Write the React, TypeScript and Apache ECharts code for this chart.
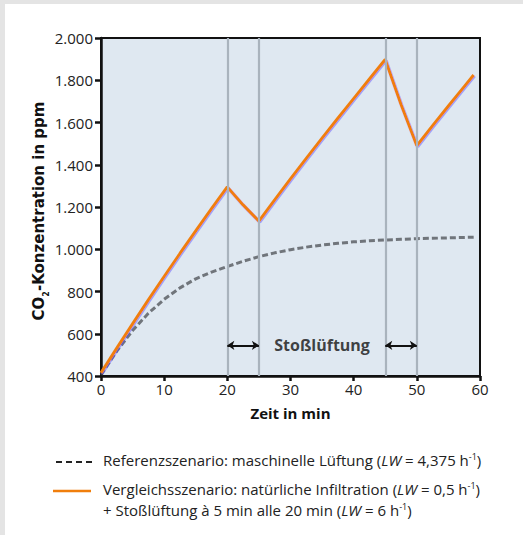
import React, { useEffect, useRef } from "react";
import * as echarts from "echarts";

const yTickLabels = ["400", "600", "800", "1.000", "1.200", "1.400", "1.600", "1.800", "2.000"];

const refTimes = [0, 2.5, 5, 7.5, 10, 12.5, 15, 17.5, 20, 22.5, 25, 27.5, 30, 32.5, 35, 37.5, 40, 42.5, 45, 47.5, 50, 52.5, 55, 57.5, 59];
const refValues = [405, 518, 615, 697, 763, 817, 860, 892, 918, 943, 965, 983, 998, 1010, 1020, 1028, 1035, 1040, 1044, 1047, 1050, 1052, 1054, 1056, 1057];

const altTimes = [0, 2.5, 5, 7.5, 10, 12.5, 15, 17.5, 20, 22.5, 25, 27.5, 30, 32.5, 35, 37.5, 40, 42.5, 45, 47.5, 50, 52.5, 55, 57.5, 59];
const altValues = [415, 532, 647, 760, 871, 980, 1087, 1192, 1295, 1210, 1133, 1234, 1333, 1430, 1526, 1620, 1713, 1806, 1898, 1685, 1490, 1585, 1678, 1770, 1825];

const ventTimes = [20, 25, 45, 50];
const arrowSpans = [[20, 25], [45, 50]];
const arrowLevel = 545;
const annotationLabel = "Stoßlüftung";
const annotationX = 35;

const FONT = "Open Sans";

export default function App() {
  const ref = useRef<HTMLDivElement>(null);
  useEffect(() => {
    if (!ref.current) return;
    const chart = echarts.init(ref.current, null, { renderer: "svg" });
    const fmtY = (v: number) => yTickLabels[(v - 400) / 200] ?? String(v);
    const richCommon = {
      i: { fontFamily: FONT, fontSize: 15, fontStyle: "italic", color: "#222" },
      sup: { fontFamily: FONT, fontSize: 9, color: "#222", verticalAlign: "top", lineHeight: 15 },
    };
    const option: any = {
      animation: false,
      backgroundColor: "#ffffff",
      textStyle: { fontFamily: FONT },
      grid: {
        left: 101, right: 43, top: 38, bottom: 159,
        show: true, backgroundColor: "#dfe8f1", borderColor: "#111", borderWidth: 2,
      },
      xAxis: {
        type: "value", min: 0, max: 60, interval: 10,
        name: "Zeit in min", nameLocation: "middle", nameGap: 29,
        nameTextStyle: { fontFamily: FONT, fontWeight: "bold", fontSize: 15, color: "#111" },
        axisLine: { show: true, lineStyle: { color: "#111", width: 2.5 } },
        axisTick: { show: true, length: 5, lineStyle: { color: "#111", width: 2.5 } },
        axisLabel: { fontFamily: FONT, fontSize: 15, color: "#222", margin: 5 },
        splitLine: { show: false },
      },
      yAxis: {
        type: "value", min: 400, max: 2000, interval: 200,
        axisLine: { show: true, lineStyle: { color: "#111", width: 2.5 } },
        axisTick: { show: true, length: 6, lineStyle: { color: "#111", width: 2.5 } },
        axisLabel: { fontFamily: FONT, fontSize: 15, color: "#222", margin: 8, formatter: fmtY },
        splitLine: { show: false },
      },
      series: [
        {
          type: "line", name: "vent", data: [], silent: true,
          markLine: {
            silent: true, symbol: "none", label: { show: false },
            lineStyle: { color: "#a9b3bd", width: 2.2, type: "solid" },
            data: ventTimes.map((t) => ({ xAxis: t })),
          },
        },
        {
          type: "line", name: "arrows", data: [], silent: true,
          markLine: {
            silent: true, symbol: ["arrow", "arrow"], symbolSize: [7, 7], label: { show: false },
            lineStyle: { color: "#111", width: 2, type: "solid" },
            data: arrowSpans.map(([a, b]) => [{ coord: [a, arrowLevel] }, { coord: [b, arrowLevel] }]),
          },
        },
        {
          type: "line", name: "Referenzszenario", showSymbol: false, z: 3,
          data: refTimes.map((t, i) => [t, refValues[i]]),
          lineStyle: { color: "#45484d", width: 3, type: [6, 3], opacity: 0.72 },
        },
        {
          type: "line", name: "Vergleichsszenario", showSymbol: false, z: 4,
          data: altTimes.map((t, i) => [t, altValues[i]]),
          lineStyle: { color: "#f07e0c", width: 3, shadowColor: "rgba(70,70,255,0.5)", shadowOffsetX: 0.8, shadowOffsetY: 1, shadowBlur: 1 },
        },
        {
          type: "scatter", name: "label", symbolSize: 0, silent: true,
          data: [[annotationX, arrowLevel]],
          label: {
            show: true, position: "inside", formatter: annotationLabel,
            fontFamily: FONT, fontWeight: "bold", fontSize: 16, color: "#111",
          },
        },
      ],
      graphic: [
        { type: "rect", left: 0, top: 0, shape: { width: 523, height: 4 }, style: { fill: "#e4e4e4" }, silent: true },
        { type: "rect", left: 0, top: 0, shape: { width: 5, height: 535 }, style: { fill: "#e4e4e4" }, silent: true },
        {
          type: "text", x: 39, y: 211, rotation: Math.PI / 2,
          style: {
            text: "CO{sub|2}-Konzentration in ppm",
            fontFamily: "DejaVu Sans", fontWeight: "bold", fontSize: 15, fill: "#111",
            align: "center", verticalAlign: "middle",
            rich: { sub: { fontFamily: "DejaVu Sans", fontWeight: "bold", fontSize: 8, fill: "#111", verticalAlign: "bottom", lineHeight: 22 } },
          },
        },
        { type: "line", shape: { x1: 56, y1: 462, x2: 93, y2: 462 }, style: { stroke: "#222", lineWidth: 2, lineDash: [6, 4] } },
        {
          type: "text", left: 103, top: 452,
          style: {
            text: "Referenzszenario: maschinelle Lüftung ({i|LW} = 4,375 h{sup|-1})",
            fontFamily: FONT, fontSize: 15, fill: "#222", rich: richCommon,
          },
        },
        { type: "line", shape: { x1: 53, y1: 491, x2: 91, y2: 491 }, style: { stroke: "#f07e0c", lineWidth: 2.5 } },
        {
          type: "text", left: 103, top: 481,
          style: {
            text: "Vergleichsszenario: natürliche Infiltration ({i|LW} = 0,5 h{sup|-1})",
            fontFamily: FONT, fontSize: 15, fill: "#222", rich: richCommon,
          },
        },
        {
          type: "text", left: 103, top: 502,
          style: {
            text: "+ Stoßlüftung à 5 min alle 20 min ({i|LW} = 6 h{sup|-1})",
            fontFamily: FONT, fontSize: 15, fill: "#222", rich: richCommon,
          },
        },
      ],
    };
    chart.setOption(option);
    return () => chart.dispose();
  }, []);
  return <div ref={ref} style={{ position: "fixed", left: 0, top: 0, width: 523, height: 535 }} />;
}
